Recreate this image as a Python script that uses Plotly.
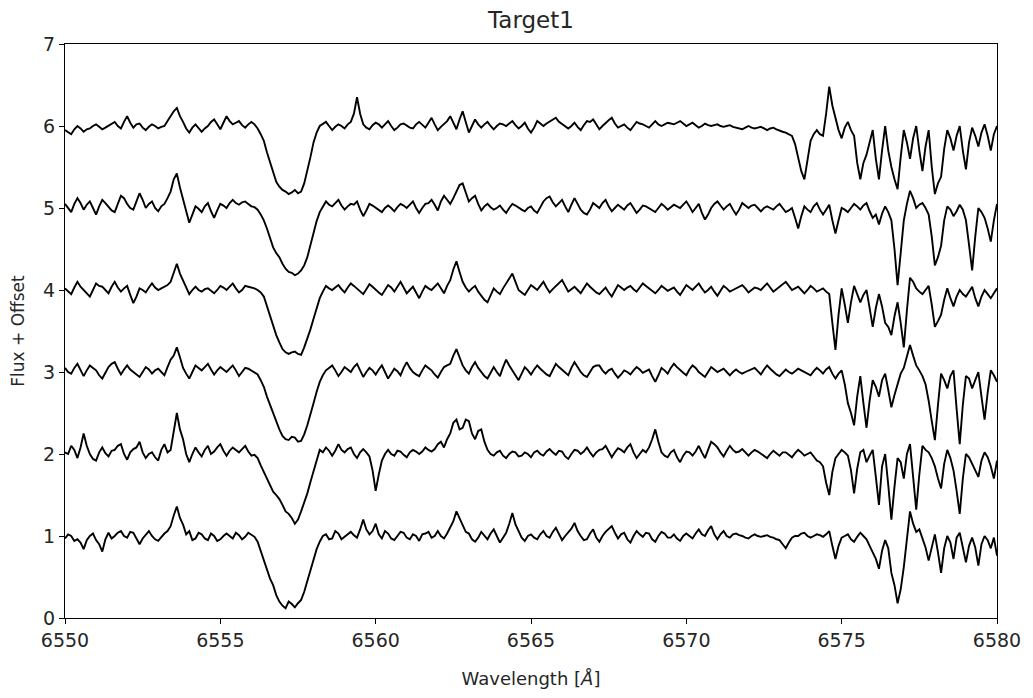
import numpy as np
import plotly.graph_objects as go

# Wavelength grid (Angstrom): 0.1 A sampling from 6550 to 6580.
# Each spectrum is stored as its values on the even samples (6550.0, 6550.2, ...)
# and the odd samples in between (6550.1, 6550.3, ...).
wavelength = np.round(6550.0 + 0.1 * np.arange(301), 2)

# ---- Spectrum 1 (bottom) ----
spec_1 = [
    0.97, 1.00, 0.96, 0.84, 1.00, 0.95, 0.81, 1.04, 1.00, 1.06,
    0.98, 1.04, 0.90, 1.02, 1.00, 0.94, 1.03, 1.12, 1.36, 1.14,
    1.06, 0.97, 1.02, 0.95, 1.00, 0.96, 1.03, 0.97, 1.01, 0.99,
    1.02, 0.93, 0.70, 0.48, 0.28, 0.15, 0.20, 0.13, 0.22, 0.45,
    0.72, 0.93, 1.02, 0.97, 1.03, 0.99, 1.05, 0.98, 1.20, 1.02,
    1.15, 0.97, 1.03, 0.95, 1.05, 0.98, 1.02, 0.94, 1.03, 0.98,
    1.06, 0.97, 1.10, 1.30, 1.12, 1.03, 0.93, 1.05, 0.96, 1.08,
    0.92, 1.04, 1.28, 1.05, 0.94, 1.02, 0.96, 1.06, 0.98, 1.10,
    0.95, 1.04, 1.16, 1.00, 0.96, 1.08, 0.93, 1.05, 1.12, 0.97,
    1.04, 0.92, 1.06, 0.99, 1.03, 0.93, 1.05, 0.98, 1.02, 0.94,
    1.03, 0.97, 1.08, 1.00, 1.12, 0.96, 1.06, 0.98, 1.03, 1.00,
    0.97, 1.02, 0.99, 1.01, 0.98, 0.95, 0.85, 0.98, 1.00, 1.04,
    0.98, 1.02, 0.99, 1.06, 0.72, 0.98, 1.02, 0.93, 1.04, 0.96,
    0.80, 0.60, 0.95, 0.55, 0.18, 0.62, 1.30, 1.05, 0.98, 0.70,
    1.02, 0.55, 1.00, 0.72, 1.04, 0.68, 0.98, 0.64, 1.00, 0.85,
    0.76,
]
spec_1_mid = [
    1.02, 0.94, 0.92, 0.95, 1.03, 0.90, 0.96, 0.97, 1.04, 1.00,
    1.05, 0.96, 0.97, 1.06, 0.96, 0.99, 1.06, 1.25, 1.22, 1.02,
    0.95, 1.04, 0.97, 1.03, 0.94, 1.00, 1.00, 1.04, 0.96, 1.04,
    0.99, 0.82, 0.58, 0.40, 0.20, 0.12, 0.17, 0.18, 0.32, 0.60,
    0.84, 1.00, 0.96, 1.06, 0.96, 1.02, 1.01, 1.08, 1.08, 1.06,
    1.02, 1.06, 0.97, 1.00, 1.04, 0.96, 1.00, 1.02, 1.05, 1.00,
    1.00, 1.03, 1.18, 1.22, 1.05, 0.96, 0.98, 1.00, 1.03, 1.00,
    0.98, 1.15, 1.14, 0.98, 1.00, 0.98, 1.02, 1.00, 1.05, 1.02,
    1.00, 1.09, 1.06, 0.95, 1.03, 0.98, 1.00, 1.08, 1.04, 1.02,
    0.96, 1.00, 1.02, 1.04, 0.96, 1.00, 1.03, 0.98, 0.97, 1.00,
    1.00, 1.03, 1.02, 1.07, 1.02, 1.02, 1.00, 1.02, 1.01, 0.98,
    1.00, 1.00, 1.00, 0.99, 0.96, 0.90, 0.92, 1.00, 1.03, 1.00,
    1.00, 1.01, 1.02, 0.88, 0.88, 1.00, 0.96, 0.99, 1.00, 0.88,
    0.72, 0.82, 0.85, 0.40, 0.35, 1.00, 1.15, 1.08, 0.86, 0.88,
    0.80, 0.85, 0.92, 0.98, 0.86, 0.88, 0.86, 0.90, 0.95, 0.98,
]

# ---- Spectrum 2 ----
spec_2 = [
    1.02, 1.10, 0.95, 1.25, 1.00, 0.92, 1.08, 0.97, 1.05, 1.12,
    0.93, 1.06, 1.15, 0.95, 1.02, 0.92, 1.12, 1.05, 1.50, 1.18,
    0.90, 1.08, 0.97, 1.10, 1.03, 1.12, 0.98, 1.08, 1.02, 1.10,
    0.98, 0.95, 0.78, 0.62, 0.50, 0.38, 0.27, 0.15, 0.30, 0.52,
    0.78, 1.05, 1.08, 0.98, 1.12, 1.02, 1.08, 0.95, 1.06, 0.97,
    0.55, 0.92, 1.05, 0.98, 1.03, 0.96, 1.05, 1.00, 1.08, 1.03,
    1.12, 1.08, 1.25, 1.42, 1.32, 1.40, 1.18, 1.30, 1.05, 0.98,
    1.04, 0.95, 1.03, 0.97, 1.02, 0.96, 1.04, 0.98, 1.06, 0.99,
    1.03, 0.94, 1.05, 1.00, 1.08, 0.97, 1.05, 1.10, 0.96, 1.07,
    1.02, 1.12, 0.95, 1.05, 1.08, 1.30, 1.02, 0.96, 1.05, 0.90,
    1.03, 0.98, 1.10, 0.95, 1.15, 1.08, 0.97, 1.10, 1.02, 1.06,
    0.98, 1.05, 1.00, 0.95, 1.04, 0.98, 1.02, 0.96, 1.05, 0.98,
    1.02, 0.92, 0.85, 0.50, 0.95, 1.05, 0.98, 0.52, 1.02, 0.90,
    1.05, 0.38, 1.00, 0.20, 0.95, 0.70, 1.12, 0.32, 1.10, 1.02,
    0.85, 0.58, 1.05, 0.80, 0.27, 1.00, 0.88, 0.72, 1.02, 0.85,
    0.92,
]
spec_2_mid = [
    1.00, 1.05, 1.08, 1.10, 0.94, 1.02, 1.01, 1.04, 1.10, 1.00,
    1.02, 1.08, 1.02, 1.00, 0.96, 1.05, 1.02, 1.30, 1.30, 1.00,
    1.00, 1.02, 1.05, 1.00, 1.08, 1.04, 1.04, 1.05, 1.06, 1.03,
    0.99, 0.86, 0.72, 0.54, 0.45, 0.30, 0.22, 0.20, 0.40, 0.66,
    0.92, 1.02, 1.04, 1.04, 1.05, 1.06, 1.00, 1.02, 1.02, 0.80,
    0.75, 1.00, 1.00, 1.04, 0.99, 1.02, 1.03, 1.03, 1.05, 1.06,
    1.15, 1.18, 1.38, 1.30, 1.42, 1.25, 1.28, 1.15, 1.00, 1.02,
    0.98, 1.00, 1.02, 0.98, 1.00, 1.02, 1.00, 1.03, 1.02, 1.04,
    0.97, 1.00, 1.04, 1.03, 1.02, 1.02, 1.06, 1.03, 1.02, 1.05,
    1.08, 1.02, 1.00, 1.02, 1.18, 1.15, 0.98, 1.02, 0.96, 0.98,
    1.02, 1.03, 1.02, 1.05, 1.12, 1.02, 1.04, 1.05, 1.03, 1.02,
    1.02, 1.03, 0.97, 1.00, 1.01, 1.02, 0.99, 1.01, 1.02, 1.00,
    0.97, 0.90, 0.65, 0.78, 1.00, 1.02, 0.80, 0.82, 1.05, 0.98,
    0.72, 0.85, 0.62, 0.60, 0.90, 1.00, 0.72, 0.75, 1.05, 0.95,
    0.70, 0.88, 0.95, 0.55, 0.70, 0.96, 0.82, 0.92, 0.96, 0.70,
]

# ---- Spectrum 3 ----
spec_3 = [
    1.05, 0.98, 1.10, 0.95, 1.08, 1.02, 0.92, 1.06, 1.12, 0.97,
    1.08, 1.00, 0.94, 1.06, 0.98, 1.04, 0.96, 1.15, 1.30, 1.05,
    0.92, 1.08, 1.02, 1.10, 0.97, 1.06, 1.00, 1.08, 0.95, 1.05,
    1.02, 0.97, 0.82, 0.60, 0.38, 0.22, 0.17, 0.20, 0.16, 0.35,
    0.62, 0.88, 1.02, 1.08, 0.95, 1.06, 1.00, 1.10, 0.94, 1.05,
    0.97, 1.08, 0.92, 1.04, 0.96, 1.12, 1.00, 0.95, 1.08, 1.02,
    0.93, 1.06, 1.10, 1.28, 1.08, 0.98, 1.12, 1.00, 0.92, 1.06,
    0.95, 1.15, 1.02, 0.90, 1.06, 0.97, 1.08, 1.00, 0.95, 1.10,
    1.03, 0.96, 1.12, 1.00, 0.94, 1.06, 1.08, 0.98, 1.04, 0.93,
    1.02, 0.97, 1.06, 0.99, 1.03, 0.88, 1.05, 0.98, 1.10, 1.02,
    0.96, 1.08, 1.00, 0.94, 1.06, 1.00, 1.04, 0.96, 1.03, 0.98,
    1.02, 1.05, 0.97, 1.08, 1.00, 0.95, 1.03, 0.98, 1.04, 1.00,
    0.96, 1.05, 0.98, 1.06, 0.92, 1.02, 0.62, 0.35, 0.95, 0.32,
    0.90, 0.70, 0.98, 0.57, 0.85, 1.05, 1.33, 1.08, 0.95, 0.65,
    0.17, 0.98, 0.80, 1.02, 0.12, 0.95, 0.80, 1.00, 0.42, 1.02,
    0.88,
]
spec_3_mid = [
    1.00, 1.05, 1.03, 1.02, 1.05, 0.96, 0.99, 1.10, 1.04, 1.03,
    1.03, 0.96, 1.00, 1.03, 1.02, 1.00, 1.06, 1.20, 1.18, 0.98,
    1.00, 1.05, 1.06, 1.03, 1.02, 1.03, 1.04, 1.02, 1.00, 1.04,
    1.00, 0.90, 0.70, 0.48, 0.30, 0.18, 0.21, 0.15, 0.24, 0.50,
    0.76, 0.96, 1.05, 1.02, 1.00, 1.03, 1.06, 1.02, 1.00, 1.02,
    1.03, 1.00, 0.98, 1.01, 1.05, 1.05, 0.97, 1.02, 1.05, 0.97,
    1.00, 1.08, 1.20, 1.18, 1.02, 1.06, 1.05, 0.95, 1.00, 1.00,
    1.06, 1.08, 0.95, 0.98, 1.02, 1.03, 1.04, 0.97, 1.03, 1.06,
    0.99, 1.05, 1.06, 0.96, 1.00, 1.08, 1.02, 1.02, 0.98, 0.97,
    1.00, 1.02, 1.03, 1.01, 0.95, 0.96, 1.02, 1.05, 1.06, 0.99,
    1.03, 1.05, 0.97, 1.00, 1.03, 1.02, 1.00, 1.00, 1.00, 1.00,
    1.04, 1.01, 1.03, 1.04, 0.97, 0.99, 1.00, 1.01, 1.02, 0.98,
    1.01, 1.02, 1.03, 0.98, 0.98, 0.85, 0.50, 0.70, 0.62, 0.65,
    0.82, 0.90, 0.78, 0.72, 0.98, 1.20, 1.20, 1.02, 0.85, 0.40,
    0.60, 0.90, 0.95, 0.55, 0.60, 0.92, 0.90, 0.70, 0.75, 0.96,
]

# ---- Spectrum 4 ----
spec_4 = [
    1.02, 0.95, 1.10, 1.00, 0.92, 1.08, 1.04, 0.96, 1.10, 0.98,
    1.05, 0.84, 1.02, 0.97, 1.08, 1.00, 1.04, 1.10, 1.32, 1.12,
    0.95, 1.04, 0.98, 1.02, 0.96, 1.05, 1.00, 1.08, 0.97, 1.05,
    1.03, 1.00, 0.92, 0.68, 0.45, 0.28, 0.22, 0.25, 0.21, 0.40,
    0.65, 0.90, 1.05, 1.00, 1.06, 0.97, 1.08, 1.02, 0.95, 1.07,
    1.00, 0.94, 1.06, 0.98, 1.10, 0.96, 1.04, 0.90, 1.05, 1.00,
    1.08, 0.96, 1.12, 1.35, 1.10, 0.98, 1.05, 0.93, 0.85, 1.02,
    0.95, 1.08, 1.20, 1.00, 0.94, 1.06, 1.00, 1.10, 0.97, 1.05,
    1.12, 0.98, 1.04, 0.96, 1.08, 1.00, 0.95, 1.03, 0.92, 1.06,
    1.00, 1.05, 0.98, 1.08, 1.02, 0.96, 1.05, 0.99, 1.03, 0.94,
    1.06, 1.00, 1.08, 0.97, 1.04, 0.93, 1.05, 0.98, 1.02, 1.06,
    0.97, 1.03, 1.00, 1.08, 0.98, 1.04, 1.10, 1.00, 1.04, 0.96,
    1.05, 0.98, 1.02, 0.95, 0.27, 1.02, 0.60, 1.05, 0.85, 1.00,
    0.55, 0.95, 0.60, 0.45, 0.85, 0.30, 1.15, 1.02, 0.95, 1.05,
    0.55, 0.70, 1.02, 0.80, 1.00, 0.92, 1.04, 0.80, 1.00, 0.90,
    1.02,
]
spec_4_mid = [
    0.98, 1.03, 1.04, 0.97, 1.00, 1.05, 1.00, 1.04, 1.03, 1.02,
    0.94, 0.92, 1.00, 1.03, 1.03, 1.02, 1.06, 1.22, 1.20, 1.02,
    1.00, 1.00, 1.01, 0.99, 1.00, 1.03, 1.04, 1.02, 1.00, 1.04,
    1.02, 0.97, 0.80, 0.56, 0.36, 0.24, 0.24, 0.22, 0.30, 0.52,
    0.78, 0.98, 1.02, 1.03, 1.01, 1.03, 1.05, 0.98, 1.01, 1.04,
    0.97, 1.00, 1.03, 1.04, 1.03, 1.00, 0.97, 0.98, 1.02, 1.04,
    1.02, 1.05, 1.25, 1.22, 1.03, 1.02, 0.98, 0.88, 0.94, 0.98,
    1.02, 1.14, 1.10, 0.97, 1.00, 1.03, 1.05, 1.03, 1.01, 1.08,
    1.05, 1.01, 1.00, 1.02, 1.04, 0.97, 0.99, 0.97, 0.99, 1.03,
    1.03, 1.01, 1.03, 1.05, 0.99, 1.00, 1.02, 1.01, 0.98, 1.00,
    1.03, 1.04, 1.02, 1.00, 0.98, 0.99, 1.02, 1.00, 1.04, 1.02,
    1.00, 1.02, 1.04, 1.03, 1.01, 1.07, 1.05, 1.02, 1.00, 1.00,
    1.02, 1.00, 0.98, 0.60, 0.70, 0.82, 0.85, 0.95, 0.94, 0.78,
    0.78, 0.80, 0.55, 0.68, 0.60, 0.75, 1.10, 0.98, 1.00, 0.82,
    0.62, 0.88, 0.90, 0.92, 0.95, 0.98, 0.90, 0.92, 0.95, 0.96,
]

# ---- Spectrum 5 ----
spec_5 = [
    1.05, 0.95, 1.12, 0.98, 1.08, 0.92, 1.10, 1.02, 0.95, 1.15,
    1.05, 0.98, 1.18, 1.00, 1.08, 0.96, 1.05, 1.20, 1.42, 1.10,
    0.82, 1.02, 0.95, 1.06, 0.88, 1.05, 1.00, 1.10, 1.04, 1.08,
    1.02, 0.98, 0.85, 0.62, 0.45, 0.32, 0.22, 0.18, 0.24, 0.40,
    0.70, 0.95, 1.08, 1.02, 1.10, 0.98, 1.05, 1.08, 0.90, 1.05,
    1.00, 0.95, 1.03, 0.96, 1.05, 1.00, 1.08, 0.94, 1.05, 1.10,
    0.97, 1.15, 1.05, 1.20, 1.30, 1.08, 1.15, 0.97, 1.05, 0.98,
    1.03, 0.94, 1.05, 1.00, 0.96, 1.02, 0.94, 1.08, 1.14, 1.02,
    1.10, 0.95, 1.12, 0.98, 0.92, 1.06, 1.00, 1.10, 0.96, 1.04,
    0.98, 1.06, 0.94, 1.03, 1.00, 0.95, 1.05, 0.98, 1.04, 1.00,
    1.08, 0.95, 1.05, 0.86, 1.00, 1.08, 0.98, 1.05, 0.92, 1.06,
    1.00, 1.04, 0.96, 1.02, 0.98, 1.05, 0.95, 1.00, 0.75, 1.02,
    0.95, 1.06, 0.92, 1.04, 0.69, 1.00, 0.95, 1.05, 0.98, 1.06,
    0.88, 0.80, 1.02, 0.85, 0.06, 0.85, 1.21, 1.00, 1.06, 0.92,
    0.30, 0.54, 1.02, 0.90, 1.04, 0.85, 0.24, 1.00, 0.88, 0.59,
    1.05,
]
spec_5_mid = [
    1.00, 1.05, 1.06, 1.04, 1.00, 1.02, 1.06, 0.97, 1.06, 1.12,
    1.00, 1.08, 1.10, 1.05, 1.00, 1.02, 1.12, 1.35, 1.25, 0.95,
    0.92, 0.99, 1.02, 0.96, 0.97, 1.03, 1.06, 1.06, 1.07, 1.05,
    1.01, 0.92, 0.75, 0.52, 0.40, 0.26, 0.21, 0.20, 0.30, 0.56,
    0.84, 1.02, 1.04, 1.06, 1.03, 1.02, 1.04, 0.98, 0.97, 1.03,
    0.98, 1.00, 1.00, 1.01, 1.03, 1.04, 1.00, 1.00, 1.06, 1.04,
    1.08, 1.10, 1.12, 1.28, 1.18, 1.12, 1.05, 1.02, 1.01, 1.00,
    0.98, 1.00, 1.03, 0.98, 1.00, 0.97, 1.02, 1.12, 1.07, 1.06,
    1.02, 1.04, 1.05, 0.94, 0.98, 1.03, 1.06, 1.02, 1.00, 1.01,
    1.03, 1.00, 0.98, 1.02, 0.97, 1.00, 1.02, 1.01, 1.02, 1.04,
    1.02, 1.00, 0.94, 0.92, 1.05, 1.03, 1.02, 0.98, 0.98, 1.03,
    1.03, 1.00, 1.00, 1.00, 1.02, 1.00, 0.97, 0.88, 0.90, 0.98,
    1.02, 0.98, 0.98, 0.85, 0.85, 0.98, 1.00, 1.02, 1.03, 0.96,
    0.92, 0.93, 0.95, 0.50, 0.45, 1.05, 1.12, 1.04, 1.00, 0.65,
    0.40, 0.85, 0.98, 0.96, 0.98, 0.55, 0.65, 0.95, 0.75, 0.85,
]

# ---- Spectrum 6 (top) ----
spec_6 = [
    0.95, 0.90, 1.00, 0.93, 0.97, 1.02, 0.96, 1.00, 1.05, 0.97,
    1.12, 0.98, 1.03, 0.95, 1.02, 0.97, 1.00, 1.12, 1.22, 1.05,
    0.92, 1.02, 0.93, 1.00, 1.08, 0.96, 1.12, 1.02, 1.06, 0.98,
    1.05, 0.97, 0.82, 0.55, 0.32, 0.22, 0.17, 0.22, 0.20, 0.45,
    0.80, 1.00, 1.05, 0.95, 1.02, 0.97, 1.05, 1.35, 1.02, 0.96,
    1.04, 0.98, 1.06, 0.95, 1.02, 1.00, 0.97, 1.05, 0.98, 1.10,
    0.95, 1.02, 1.12, 0.96, 1.18, 0.92, 1.08, 0.98, 1.05, 0.96,
    1.03, 1.00, 1.06, 0.97, 1.04, 0.92, 1.06, 1.00, 1.05, 1.10,
    1.02, 0.97, 1.04, 0.95, 1.06, 1.08, 0.96, 1.04, 1.10, 0.98,
    1.02, 0.95, 1.05, 1.02, 0.98, 1.06, 1.00, 1.04, 1.02, 1.06,
    1.00, 1.04, 0.98, 1.03, 1.00, 1.02, 0.99, 1.01, 0.98, 0.96,
    1.00, 0.97, 0.99, 0.95, 0.98, 0.94, 0.92, 0.88, 0.60, 0.35,
    0.82, 0.95, 0.88, 1.48, 1.08, 0.85, 1.05, 0.88, 0.35, 0.65,
    0.95, 0.35, 1.00, 0.50, 0.23, 0.95, 0.60, 1.00, 0.45, 0.95,
    0.17, 0.38, 0.95, 0.70, 1.00, 0.47, 0.98, 0.75, 1.02, 0.70,
    1.00,
]
spec_6_mid = [
    0.93, 0.96, 0.97, 0.96, 1.00, 0.99, 0.98, 1.03, 1.00, 1.05,
    1.04, 1.02, 0.98, 0.99, 1.00, 0.99, 1.06, 1.18, 1.12, 0.97,
    0.98, 0.97, 0.97, 1.05, 1.02, 1.04, 1.06, 1.04, 1.01, 1.02,
    1.02, 0.90, 0.68, 0.42, 0.26, 0.20, 0.19, 0.18, 0.30, 0.62,
    0.92, 1.03, 1.00, 0.99, 1.00, 1.02, 1.15, 1.15, 0.98, 1.01,
    1.02, 1.02, 1.00, 0.98, 1.03, 0.98, 1.02, 1.01, 1.04, 1.02,
    0.99, 1.06, 1.04, 1.08, 1.05, 1.00, 1.02, 1.02, 1.00, 1.00,
    1.02, 1.03, 1.01, 1.00, 0.97, 0.98, 1.03, 1.03, 1.07, 1.05,
    0.99, 1.00, 0.99, 1.01, 1.05, 1.02, 1.00, 1.07, 1.03, 1.00,
    0.98, 1.00, 1.03, 1.00, 1.02, 1.02, 1.02, 1.03, 1.04, 1.03,
    1.02, 1.01, 1.00, 1.01, 1.01, 1.00, 1.00, 0.99, 0.97, 0.98,
    0.98, 0.98, 0.97, 0.97, 0.96, 0.93, 0.90, 0.78, 0.45, 0.60,
    0.90, 0.90, 1.15, 1.25, 0.95, 0.98, 0.95, 0.55, 0.55, 0.82,
    0.60, 0.70, 0.70, 0.35, 0.62, 0.80, 0.85, 0.70, 0.75, 0.50,
    0.30, 0.72, 0.85, 0.88, 0.70, 0.80, 0.88, 0.92, 0.88, 0.90,
]

spectra = [
    (spec_1, spec_1_mid),
    (spec_2, spec_2_mid),
    (spec_3, spec_3_mid),
    (spec_4, spec_4_mid),
    (spec_5, spec_5_mid),
    (spec_6, spec_6_mid),
]
offsets = [0, 1, 2, 3, 4, 5]

x_ticks = [6550, 6555, 6560, 6565, 6570, 6575, 6580]
y_ticks = [0, 1, 2, 3, 4, 5, 6, 7]

FONT = "DejaVu Sans"
TEXT = "#262626"


def merge(even, odd):
    """Interleave the even- and odd-sample flux values into one array."""
    out = np.empty(len(even) + len(odd))
    out[0::2] = even
    out[1::2] = odd
    return out


fig = go.Figure()
for (even, odd), off in zip(spectra, offsets):
    fig.add_trace(go.Scatter(
        x=wavelength,
        y=merge(even, odd) + off,
        mode="lines",
        line=dict(color="black", width=1.9),
        showlegend=False,
        hoverinfo="skip",
    ))

axis_common = dict(
    showline=True, mirror=True, linecolor="black", linewidth=1.2,
    ticks="outside", ticklen=5, tickwidth=1.2, tickcolor="black",
    showgrid=False, zeroline=False,
    tickfont=dict(family=FONT, size=19, color=TEXT),
)

fig.update_layout(
    width=1033, height=698,
    margin=dict(l=65, r=33, t=44, b=76),
    paper_bgcolor="white", plot_bgcolor="white",
    title=dict(text="Target1", x=0.5, xref="paper", y=1 - 20 / 698,
               yref="container", yanchor="middle",
               font=dict(family=FONT, size=23, color=TEXT)),
    xaxis=dict(range=[6550, 6580], tickvals=x_ticks,
               title=dict(text="Wavelength [<i>Å</i>]", standoff=22,
                          font=dict(family=FONT, size=18, color=TEXT)),
               **axis_common),
    yaxis=dict(range=[0, 7], tickvals=y_ticks,
               title=dict(text="Flux + Offset", standoff=14,
                          font=dict(family=FONT, size=17, color=TEXT)),
               **axis_common),
)

fig.write_html("out.html")
